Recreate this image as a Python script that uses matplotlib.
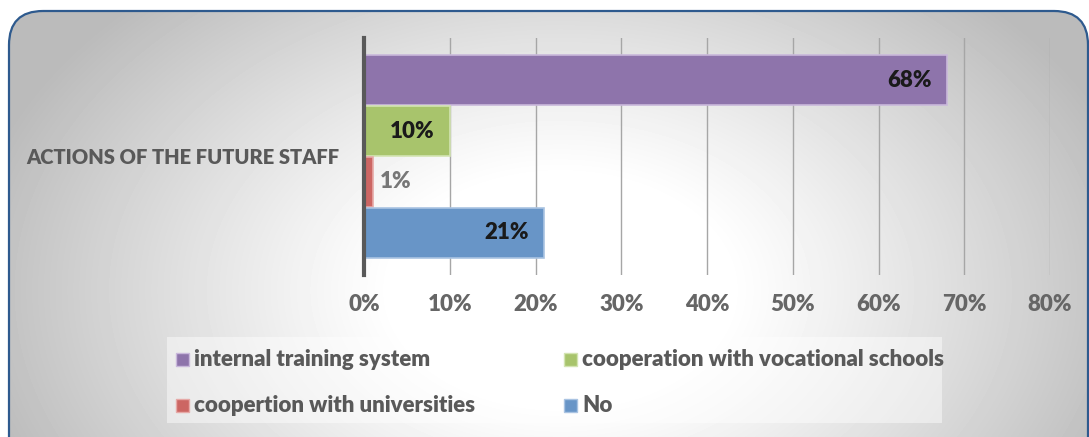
import numpy as np
import matplotlib.pyplot as plt
from matplotlib.patches import FancyBboxPatch, Rectangle

plt.rcParams['font.family'] = ['Lato', 'DejaVu Sans']
WEIGHT = 'heavy'

category = 'ACTIONS OF THE FUTURE STAFF'
series = ['internal training system', 'cooperation with vocational schools',
          'coopertion with universities', 'No']
values = [68, 10, 1, 21]
colors = ['#8E74AB', '#A8C46C', '#CC6663', '#6895C7']
edges = ['#C9B8DB', '#D3E4B2', '#E6A9A7', '#A9C3E2']
ticks = [0, 10, 20, 30, 40, 50, 60, 70, 80]

W, H = 1089, 437
fig = plt.figure(figsize=(W / 100, H / 100), dpi=100)

# background panel with a soft radial shading and rounded border
bg = fig.add_axes([0, 0, 1, 1], zorder=-5)
bg.set_xlim(0, W)
bg.set_ylim(H, 0)
bg.axis('off')
yy, xx = np.mgrid[0:H, 0:W]
r = np.sqrt(((xx - 560) / 560.0) ** 2 + ((yy - 290) / 380.0) ** 2)
shade = 1.0 - 0.24 * np.clip((r - 0.3) / 0.7, 0, 1.1) ** 1.1
img = bg.imshow(shade, cmap='gray', vmin=0, vmax=1, extent=(0, W, H, 0),
                interpolation='bilinear')
panel = FancyBboxPatch((9, 11), W - 10, H + 30,
                       boxstyle='round,pad=0,rounding_size=34',
                       facecolor='none', edgecolor='#2E5A8E', linewidth=1.6)
bg.add_patch(panel)
img.set_clip_path(panel)

# legend box
bg.add_patch(Rectangle((167, 337), 775, 86, facecolor='white', alpha=0.45,
                       edgecolor='none'))

# plotting area
x0, x1 = 364, 1050
y0, y1 = 38, 275
ax = fig.add_axes([x0 / W, 1 - y1 / H, (x1 - x0) / W, (y1 - y0) / H])
ax.patch.set_alpha(0)
pos = [3, 2, 1, 0]
bars = ax.barh(pos, values, height=0.99, color=colors, edgecolor=edges,
               linewidth=1.2, zorder=3)
ax.set_xlim(0, 80)
ax.set_ylim(-0.83, 3.83)
ax.set_xticks(ticks)
ax.set_xticklabels([f'{t}%' for t in ticks])
ax.tick_params(axis='x', length=0, pad=14, labelsize=16, labelcolor='#666666')
for lab in ax.get_xticklabels():
    lab.set_fontweight(WEIGHT)
ax.set_yticks([])
ax.grid(axis='x', color='#A6A6A6', linewidth=1, zorder=0)
for s in ['top', 'right', 'bottom']:
    ax.spines[s].set_visible(False)
ax.spines['left'].set_color('#595959')
ax.spines['left'].set_linewidth(3)
ax.spines['left'].set_zorder(4)

for b, v in zip(bars, values):
    yc = b.get_y() + b.get_height() / 2
    if v >= 5:
        ax.text(v - 1.8, yc, f'{v}%', ha='right', va='center', fontsize=16,
                fontweight=WEIGHT, color='#1A1A1A', zorder=5)
    else:
        ax.text(v + 0.9, yc, f'{v}%', ha='left', va='center', fontsize=16,
                fontweight=WEIGHT, color='#777777', zorder=5)

bg.text(183, 157, category, ha='center', va='center', fontsize=14.5,
        fontweight=WEIGHT, color='#595959')

# legend entries
spots = [(182, 359), (570, 359), (182, 405), (570, 405)]
for (lx, ly), name, c, e in zip(spots, series, colors, edges):
    bg.add_patch(Rectangle((lx - 6.5, ly - 6.5), 13, 13, facecolor=c,
                           edgecolor=e, linewidth=1))
    bg.text(lx + 12, ly, name, ha='left', va='center', fontsize=16,
            fontweight=WEIGHT, color='#595959')

fig.savefig('out.png', dpi=100)
